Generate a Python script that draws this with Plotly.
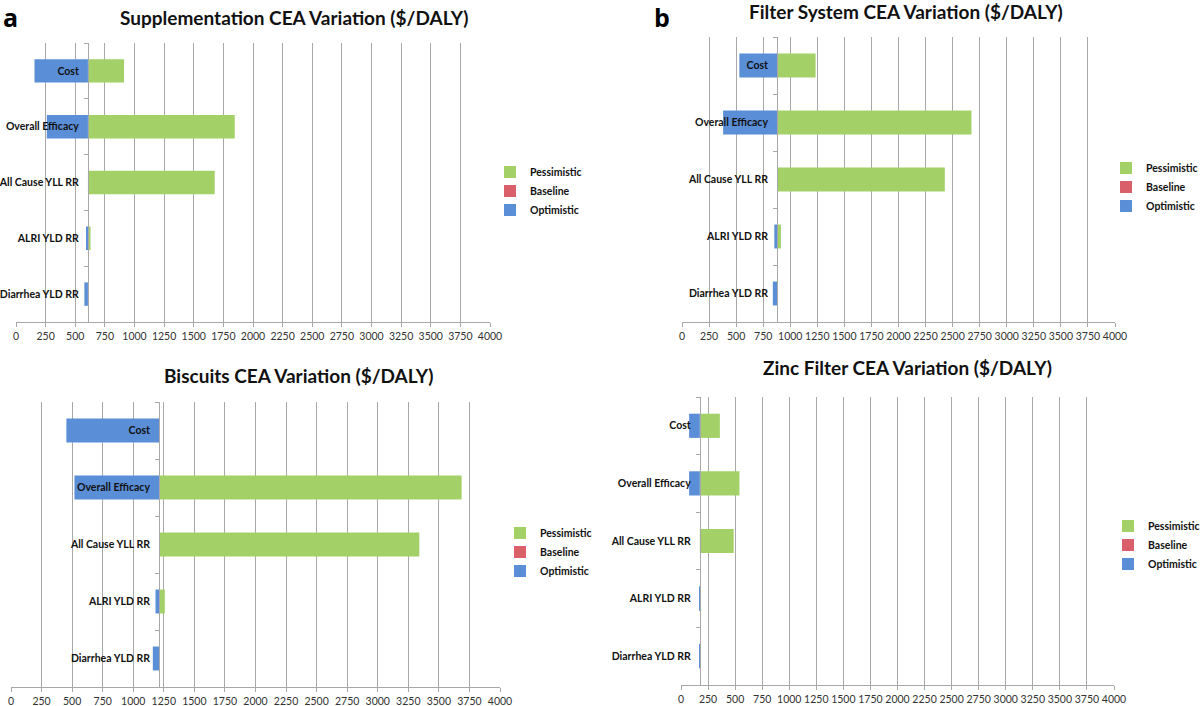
import plotly.graph_objects as go

# ---------------- data ----------------
categories = ["Cost", "Overall Efficacy", "All Cause YLL RR", "ALRI YLD RR", "Diarrhea YLD RR"]
series_names = ["Pessimistic", "Baseline", "Optimistic"]

titles = ["Supplementation CEA Variation ($/DALY)", "Filter System CEA Variation ($/DALY)",
          "Biscuits CEA Variation ($/DALY)", "Zinc Filter CEA Variation ($/DALY)"]
panel_letters = ["a", "b", "", ""]

baseline_supp = 607
optimistic_supp = [156, 260, 607, 597, 577]
pessimistic_supp = [912, 1846, 1677, 629, 607]

baseline_filter = 878
optimistic_filter = [530, 380, 878, 853, 839]
pessimistic_filter = [1234, 2674, 2428, 914, 878]

baseline_biscuit = 1211
optimistic_biscuit = [453, 519, 1211, 1182, 1160]
pessimistic_biscuit = [1211, 3686, 3340, 1258, 1211]

baseline_zinc = 174
optimistic_zinc = [75, 75, 174, 168, 170]
pessimistic_zinc = [359, 540, 487, 182, 176]

x_ticks = list(range(0, 4001, 250))

baselines = [baseline_supp, baseline_filter, baseline_biscuit, baseline_zinc]
optimistics = [optimistic_supp, optimistic_filter, optimistic_biscuit, optimistic_zinc]
pessimistics = [pessimistic_supp, pessimistic_filter, pessimistic_biscuit, pessimistic_zinc]

# ---------------- layout geometry (pixels) ----------------
W, H = 1200, 706
# plot boxes: x0, x1, ytop, ybottom
boxes = [(16, 490, 43, 322), (682, 1115, 37, 322), (11, 500, 402, 687), (681, 1114, 397, 685)]
title_pos = [(294, 17), (906, 12), (299, 375), (907, 367)]
letter_pos = [(1, 17), (652, 17)]
legend_pos = [(490, 191), (1106, 187), (500, 552), (1108, 545)]

GREEN = "#A3D168"
RED = "#D9606A"
BLUE = "#5A8ED6"
GRID = "#A8A8A8"
FONT = "Lato"

fig = go.Figure()
layout = dict(width=W, height=H, margin=dict(l=0, r=0, t=0, b=0, autoexpand=False),
              plot_bgcolor="white", paper_bgcolor="white", barmode="overlay",
              font=dict(family=FONT, color="#222"), annotations=[])

for i in range(4):
    n = "" if i == 0 else str(i + 1)
    xa, ya = "x" + n, "y" + n
    leg = "legend" + n
    base = baselines[i]
    pess = pessimistics[i]
    opt = optimistics[i]
    common = dict(orientation="h", y=categories, xaxis=xa, yaxis=ya, legend=leg,
                  width=0.42, base=[base] * len(categories), hoverinfo="skip")
    fig.add_trace(go.Bar(name="Pessimistic", x=[p - base for p in pess],
                         marker=dict(color=GREEN, line=dict(width=0)), **common))
    fig.add_trace(go.Bar(name="Baseline", x=[0] * len(categories),
                         marker=dict(color=RED, line=dict(width=0)), **common))
    fig.add_trace(go.Bar(name="Optimistic", x=[o - base for o in opt],
                         marker=dict(color=BLUE, line=dict(width=0)), **common))

    x0, x1, yt, yb = boxes[i]
    layout["xaxis" + n] = dict(domain=[x0 / W, x1 / W], range=[0, 4000], tickvals=x_ticks,
                               showgrid=True, gridcolor=GRID, gridwidth=1, zeroline=False,
                               showline=True, linecolor=GRID, linewidth=1,
                               ticks="outside", ticklen=4, tickcolor=GRID, tickangle=0,
                               tickfont=dict(size=10.5, color="#333"), anchor=ya, fixedrange=True,
                               automargin=False)
    ypos = (x0 + base / 4000 * (x1 - x0)) / W
    layout["yaxis" + n] = dict(domain=[1 - yb / H, 1 - yt / H], type="category",
                               categoryorder="array", categoryarray=categories[::-1],
                               range=[-0.5, 4.5], anchor="free", position=ypos,
                               showline=True, linecolor=GRID, linewidth=1,
                               showgrid=False, zeroline=False,
                               ticks="outside", tickson="boundaries", ticklen=4, tickcolor=GRID,
                               ticklabelstandoff=7,
                               tickfont=dict(size=10.5, color="#111", family=FONT, weight="bold"),
                               fixedrange=True, automargin=False)
    lx, ly = legend_pos[i]
    layout[leg] = dict(x=lx / W, y=1 - ly / H, xanchor="left", yanchor="middle",
                       bgcolor="rgba(0,0,0,0)", traceorder="normal",
                       font=dict(size=10.5, color="#111", family=FONT, weight="bold"),
                       itemwidth=30, tracegroupgap=0)
    tx, ty = title_pos[i]
    layout["annotations"].append(dict(text="<b>" + titles[i] + "</b>", x=tx / W, y=1 - ty / H,
                                      xref="paper", yref="paper", xanchor="center", yanchor="middle",
                                      showarrow=False, font=dict(size=19, color="#111", family=FONT)))

for letter, (lx, ly) in zip(panel_letters[:2], letter_pos):
    layout["annotations"].append(dict(text="<b>" + letter + "</b>", x=lx / W, y=1 - ly / H,
                                      xref="paper", yref="paper", xanchor="left", yanchor="middle",
                                      showarrow=False, font=dict(size=25, color="#000", family="Open Sans")))

fig.update_layout(**layout)
fig.write_html("out.html", config={"displayModeBar": False},
               post_script="document.body.style.margin='0';document.body.style.overflow='hidden';")
